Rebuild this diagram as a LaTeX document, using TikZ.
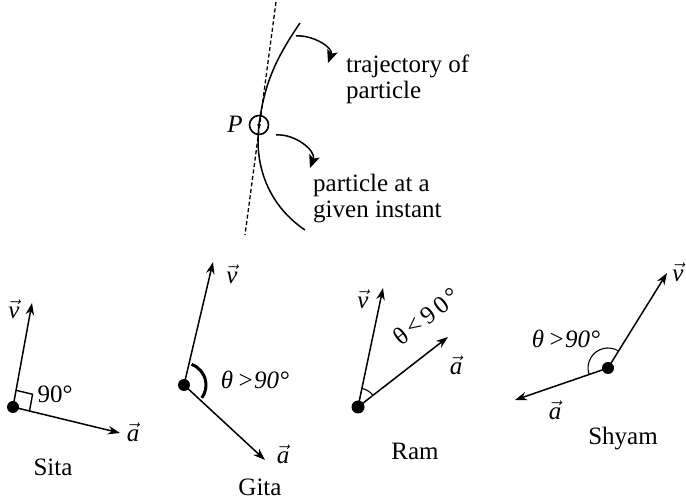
\documentclass[tikz,border=0pt]{standalone}
\usepackage{fontspec}
\setmainfont{Liberation Serif}
\usetikzlibrary{arrows.meta,calc}
\newcommand{\vv}[1]{$\vec{\mbox{\itshape #1}}$}
\tikzset{
  lbl/.style={font=\fontsize{25}{26}\selectfont, inner sep=0pt},
  ilbl/.style={font=\fontsize{25}{26}\selectfont\itshape, inner sep=0pt},
  vec/.style={line width=1.5pt, -{Stealth[length=12pt,width=8.5pt]}},
  pdot/.style={circle, fill=black, inner sep=0pt, minimum size=12pt},
  curv/.style={line width=1.5pt, -{Stealth[length=13pt,width=11pt,inset=3pt]}},
}
\begin{document}
\begin{tikzpicture}[x=1pt,y=1pt]
\useasboundingbox (0,0) rectangle (686,501);
% ---------- top figure ----------
\coordinate (dtop) at (276,499);
\coordinate (dbot) at (245,266);
\draw[line width=1.3pt, dash pattern=on 4pt off 2.5pt] (dtop) -- (dbot);
\coordinate (ctop) at (300,478);
\coordinate (P) at (259,376);
\coordinate (cbot) at (305,271);
\draw[line width=1.5pt] (ctop) .. controls (274,440) and (264,415) .. (P)
  .. controls (254,336) and (268,296) .. (cbot);
\node[circle, draw, line width=1.6pt, minimum size=19pt, inner sep=0pt] (Pc) at (P) {};
\fill (P) circle (1.8pt);
\node[ilbl] (Plbl) at (235,377) {P};
\coordinate (a1s) at (296,465);
\coordinate (a1e) at (328,438);
\draw[curv] (a1s) to[out=5, in=70] (a1e);
\node[lbl, anchor=west, align=left] (traj) at (346,422) {trajectory of\\particle};
\coordinate (a2s) at (276,366);
\coordinate (a2e) at (310,333);
\draw[curv] (a2s) to[out=5, in=70] (a2e);
\node[lbl, anchor=west, align=left] (inst) at (313,302) {particle at a\\given instant};
% ---------- Sita ----------
\node[pdot] (S) at (13,94) {};
\coordinate (Sv) at (32,198);
\coordinate (Sa) at (120,68);
\draw[vec] (S.center) -- (Sv);
\draw[vec] (S.center) -- (Sa);
\draw[line width=1.4pt] ($(S.center)!17pt!(Sv)$) -- ($($(S.center)!17pt!(Sv)$)+($(S.center)!17pt!(Sa)$)-(S.center)$) -- ($(S.center)!17pt!(Sa)$);
\node[lbl] (Svl) at (14,192) {\vv{v}};
\node[lbl] (Sal) at (133,69) {\vv{a}};
\node[lbl] (S90) at (55,107) {90°};
\node[lbl] (Sname) at (53,34) {Sita};
% ---------- Gita ----------
\node[pdot] (G) at (184,116) {};
\coordinate (Gv) at (213,239);
\coordinate (Ga) at (265,41);
\draw[vec] (G.center) -- (Gv);
\draw[vec] (G.center) -- (Ga);
\draw[line width=3pt] ($(G.center)+(70:22)$) arc (70:-36:22);
\node[lbl] (Gvl) at (232,227) {\vv{v}};
\node[lbl] (Gal) at (283,47) {\vv{a}};
\node[ilbl] (Gth) at (255,121) {θ\kern4pt>90°};
\node[lbl] (Gname) at (260,14) {Gita};
% ---------- Ram ----------
\node[pdot, minimum size=13pt] (R) at (358,94) {};
\coordinate (Rv) at (383,213);
\coordinate (Ra) at (448,164);
\draw[vec] (R.center) -- (Rv);
\draw[vec] (R.center) -- (Ra);
\draw[line width=1.1pt] ($(R.center)+(78:19)$) arc (78:38:19);
\node[lbl] (Rvl) at (363,202) {\vv{v}};
\node[lbl] (Ral) at (456,136) {\vv{a}};
\node[lbl, rotate=38] (Rth) at (426,185) {θ\kern4pt<\kern4pt9\kern4pt0\kern3pt°};
\node[lbl] (Rname) at (415,50) {Ram};
% ---------- Shyam ----------
\node[pdot] (H) at (608,133) {};
\coordinate (Hv) at (667,228);
\coordinate (Ha) at (515,101);
\draw[vec] (H.center) -- (Hv);
\draw[vec] (H.center) -- (Ha);
\draw[line width=1.1pt] ($(H.center)+(58:20)$) arc (58:199:20);
\node[lbl] (Hvl) at (678,229) {\vv{v}};
\node[lbl] (Hal) at (555,91) {\vv{a}};
\node[ilbl] (Hth) at (566,162) {θ\kern4pt>90°};
\node[lbl] (Hname) at (623,62) {Shyam};
\end{tikzpicture}
\end{document}
